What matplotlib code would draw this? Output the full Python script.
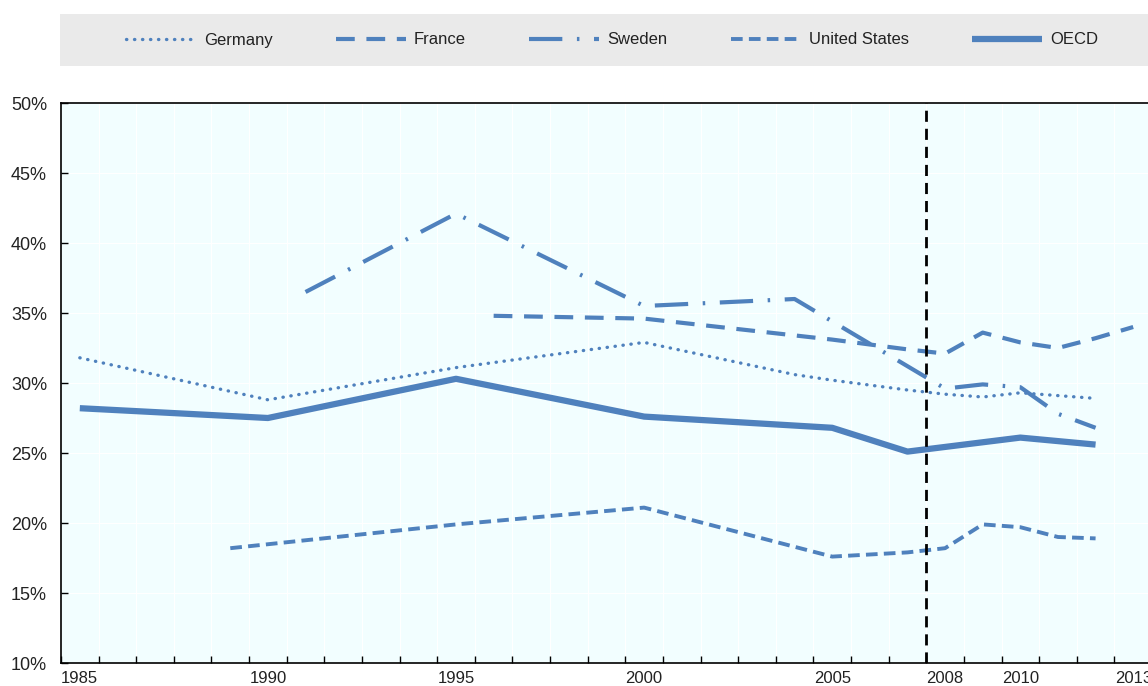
import matplotlib
matplotlib.use("Agg")
import matplotlib.pyplot as plt
import numpy as np
from matplotlib.patches import Rectangle

plt.rcParams['font.family'] = ['Liberation Sans', 'DejaVu Sans']

# ---- data (percent) ----
germany_years = [1985, 1990, 1995, 2000, 2004, 2005, 2007, 2008, 2009, 2010, 2011, 2012]
germany_vals  = [31.8, 28.8, 31.1, 32.9, 30.6, 30.2, 29.5, 29.2, 29.0, 29.3, 29.1, 28.9]

france_years = [1996, 2000, 2005, 2007, 2008, 2009, 2010, 2011, 2012, 2013]
france_vals  = [34.8, 34.6, 33.1, 32.4, 32.1, 33.6, 32.9, 32.5, 33.2, 34.0]

sweden_years = [1991, 1995, 2000, 2004, 2008, 2009, 2010, 2011, 2012]
sweden_vals  = [36.5, 42.1, 35.5, 36.0, 29.6, 29.9, 29.7, 27.8, 26.8]

us_years = [1989, 1995, 2000, 2005, 2007, 2008, 2009, 2010, 2011, 2012]
us_vals  = [18.2, 19.9, 21.1, 17.6, 17.9, 18.2, 19.9, 19.7, 19.0, 18.9]

oecd_years = [1985, 1990, 1995, 2000, 2005, 2007, 2010, 2012]
oecd_vals  = [28.2, 27.5, 30.3, 27.6, 26.8, 25.1, 26.1, 25.6]

label_years = [1985, 1990, 1995, 2000, 2005, 2008, 2010, 2013]
y_ticks = [10, 15, 20, 25, 30, 35, 40, 45, 50]
crisis_boundary = 2007.5

blue = '#4f81bd'
bg = '#f2feff'

fig = plt.figure(figsize=(11.48, 6.86), dpi=100)
ax = fig.add_axes([61/1148, 1-663/686, (1152-61)/1148, (663-103)/686])
ax.set_facecolor(bg)

ax.plot(germany_years, germany_vals, color=blue, lw=2.4, linestyle=(0, (0.1, 2.3)),
        dash_capstyle='round', solid_capstyle='round', label='Germany')
ax.plot(france_years, france_vals, color=blue, lw=3.0, linestyle=(0, (4.5, 2.8)), label='France')
ax.plot(sweden_years, sweden_vals, color=blue, lw=3.0, linestyle=(0, (8, 3.5, 0.6, 3.5)), label='Sweden')
ax.plot(us_years, us_vals, color=blue, lw=2.8, linestyle=(0, (3.0, 1.6)), label='United States')
ax.plot(oecd_years, oecd_vals, color=blue, lw=4.5, solid_capstyle='butt', label='OECD')

ax.axvline(crisis_boundary, color='black', lw=2.0, linestyle=(0, (4, 2.5)))

ax.set_xlim(1984.5, 2013.5)
ax.set_ylim(10, 50)
ax.set_xticks(label_years)
ax.set_xticklabels([str(y) for y in label_years])
ax.set_xticks(np.arange(1984.5, 2014.0, 1.0), minor=True)
ax.tick_params(axis='x', which='major', length=0, pad=6, labelsize=12, colors='#222222')
ax.tick_params(axis='x', which='minor', direction='in', length=5, width=1, color='black')
ax.set_yticks(y_ticks)
ax.set_yticklabels([f'{v}%' for v in y_ticks])
ax.tick_params(axis='y', direction='in', length=5, width=1, labelsize=13, pad=10, colors='#222222')
ax.tick_params(axis='y', color='black')

ax.grid(True, which='minor', axis='x', color='white', lw=0.8)
ax.grid(True, which='major', axis='y', color='white', lw=0.8)
ax.set_axisbelow(True)
for s in ['left', 'bottom', 'top']:
    ax.spines[s].set_color('black')
    ax.spines[s].set_linewidth(1.2)
ax.spines['right'].set_visible(False)

# legend band
fig.patches.append(Rectangle((60/1148, 1-66/686), 1.0, 52/686, transform=fig.transFigure,
                             facecolor='#eaeaea', edgecolor='none', zorder=0))
handles, labels = ax.get_legend_handles_labels()
leg = fig.legend(handles, labels, loc='center', bbox_to_anchor=(612/1148, 1-40/686), ncol=5,
                 frameon=False, fontsize=12, handlelength=4.2, handletextpad=0.48,
                 columnspacing=3.8)
for t in leg.get_texts():
    t.set_color('#222222')

fig.savefig('out.png', dpi=100)
